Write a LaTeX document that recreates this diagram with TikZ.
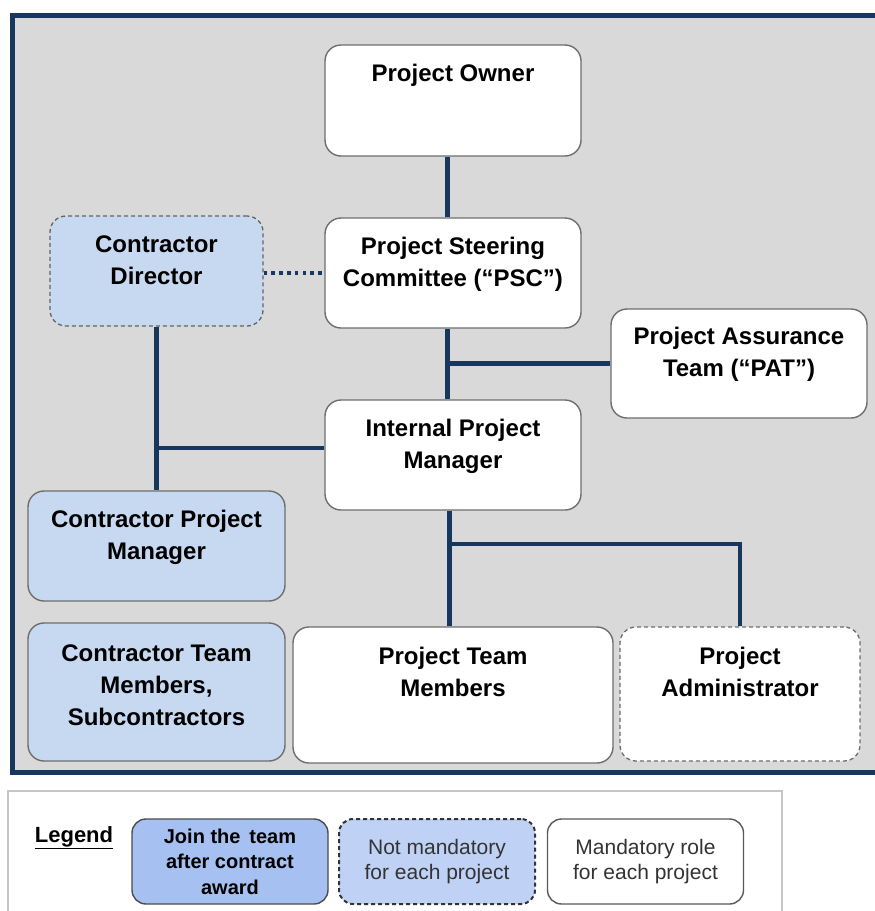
\documentclass[tikz,border=0pt]{standalone}
\usepackage{fontspec}
\setmainfont{Liberation Sans}
\definecolor{navy}{HTML}{17375E}
\definecolor{bggray}{HTML}{D9D9D9}
\definecolor{lblue}{HTML}{C6D9F1}
\definecolor{legA}{HTML}{A6C0F2}
\definecolor{legB}{HTML}{BFD2F6}
\definecolor{bordergray}{HTML}{6E6E6E}
\tikzset{
  box/.style={draw=bordergray, line width=1.4pt, rounded corners=16pt, fill=white, inner sep=0pt},
  bluebox/.style={box, fill=lblue},
  dashbox/.style={box, dash pattern=on 4pt off 3pt, line width=1.3pt},
  txt/.style={inner sep=0pt, align=center, font=\fontsize{24}{32}\selectfont\bfseries},
  conn/.style={draw=navy, line width=4.5pt},
  dotconn/.style={draw=navy, line width=3.5pt, dash pattern=on 3.5pt off 4.3pt},
  legbox/.style={rounded corners=14pt, inner sep=0pt, minimum width=196pt, minimum height=85pt, align=center},
}
\begin{document}
\begin{tikzpicture}[x=1pt,y=-1pt]
\useasboundingbox (0,0) rectangle (875,911);
\clip (0,0) rectangle (875,911);
% main frame
\draw[draw=navy, line width=4.5pt, fill=bggray] (12.5,15.5) rectangle (910,772.5);
% boxes
\node[box, minimum width=256pt, minimum height=111pt] (po) at (453,100.5) {};
\node[box, minimum width=256pt, minimum height=110pt] (psc) at (453,273) {};
\node[dashbox, fill=lblue, draw=bordergray!90!black, minimum width=213pt, minimum height=110pt] (cd) at (156.5,271) {};
\node[box, minimum width=256pt, minimum height=109pt] (pat) at (739,363.5) {};
\node[box, minimum width=256pt, minimum height=110pt] (ipm) at (453,455) {};
\node[bluebox, minimum width=257pt, minimum height=110pt] (cpm) at (156.5,546) {};
\node[bluebox, minimum width=257pt, minimum height=138pt] (ctm) at (156.5,692) {};
\node[box, minimum width=320pt, minimum height=136pt] (ptm) at (453,695) {};
\node[dashbox, draw=gray!85!black, minimum width=240pt, minimum height=134pt] (pa) at (740,694) {};
% texts
\node[txt, anchor=north] (tpo) at ([yshift=-15pt]po.north) {\strut Project Owner};
\node[txt, anchor=north] (tpsc) at ([yshift=-15pt]psc.north) {\strut Project Steering\\Committee (“PSC”)};
\node[txt, anchor=north] (tcd) at ([yshift=-15pt]cd.north) {\strut Contractor\\Director};
\node[txt, anchor=north] (tpat) at ([yshift=-14pt]pat.north) {\strut Project Assurance\\Team (“PAT”)};
\node[txt, anchor=north] (tipm) at ([yshift=-15pt]ipm.north) {\strut Internal Project\\Manager};
\node[txt, anchor=north] (tcpm) at ([yshift=-15pt]cpm.north) {\strut Contractor Project\\Manager};
\node[txt, anchor=north] (tctm) at ([yshift=-17pt]ctm.north) {\strut Contractor Team\\Members,\\Subcontractors};
\node[txt, anchor=north] (tptm) at ([yshift=-15.5pt]ptm.north) {\strut Project Team\\Members};
\node[txt, anchor=north] (tpa) at ([yshift=-15.5pt]pa.north) {\strut Project\\Administrator};
% connectors
\coordinate (s1) at ([xshift=-5.5pt]po.south);
\coordinate (s2) at ([xshift=-5.5pt]psc.south);
\draw[conn] (s1) -- (s1 |- psc.north);
\draw[conn] (s2) -- (s2 |- ipm.north);
\draw[conn] (pat.west) -- (s2 |- pat.west);
\draw[dotconn] (psc.west -| cd.east) -- (psc.west);
\coordinate (b2) at ([yshift=7pt]ipm.west);
\draw[conn] (cd.south) -- (cpm.north);
\draw[conn] (b2) -- (cd.south |- b2);
\coordinate (s3) at ([xshift=-3.5pt]ipm.south);
\coordinate (j3) at ([yshift=-33pt]s3);
\draw[conn] (s3) -- (s3 |- ptm.north);
\draw[conn, line width=4pt] (j3) -| (pa.north);
% legend
\draw[draw=gray!45, line width=1.2pt, fill=white] (8,791) rectangle (782,940);
\node[inner sep=0pt, anchor=base, font=\fontsize{22}{26}\selectfont\bfseries] (leglbl) at (74,842) {\underline{Legend}};
\node[legbox, draw=gray!60!black, line width=1.4pt, fill=legA, font=\fontsize{20}{25.5}\selectfont\bfseries] (lb1) at (230,861.5) {Join the\, team\\after contract\\award};
\node[legbox, draw=black!80, line width=2pt, dash pattern=on 4pt off 3pt, fill=legB, text=black!80, font=\fontsize{21}{25.5}\selectfont] (lb2) at (437,861.5) {Not mandatory\\for each project};
\node[legbox, draw=gray!70!black, line width=1.4pt, fill=white, text=black!80, font=\fontsize{21}{25.5}\selectfont] (lb3) at (645.5,861.5) {Mandatory role\\for each project};
\end{tikzpicture}
\end{document}
